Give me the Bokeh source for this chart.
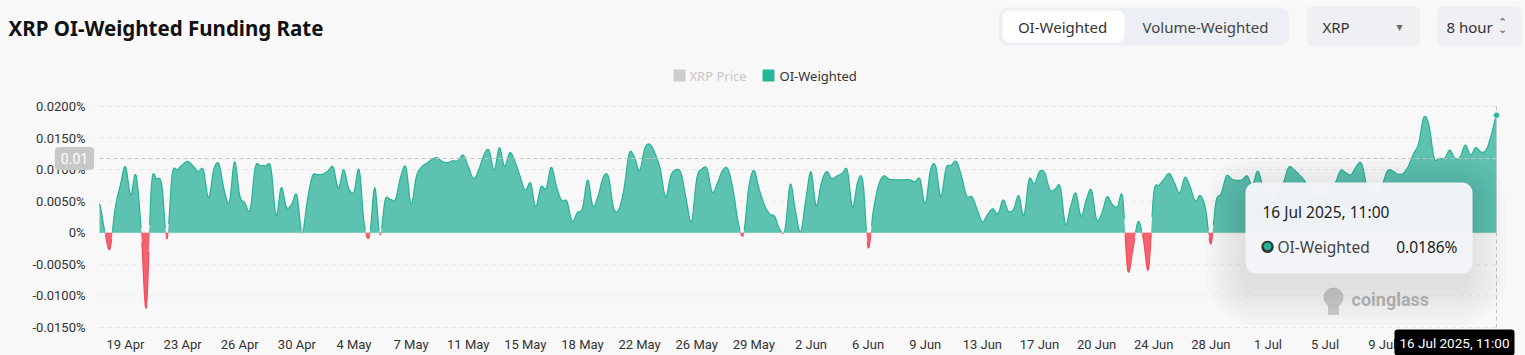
import numpy as np
from bokeh.plotting import figure
from bokeh.models import (Range1d, FixedTicker, CustomJSTickFormatter, Label,
                          BoxAnnotation)
from bokeh.embed import file_html
from bokeh.resources import INLINE

# ---------------- data (OI-weighted funding rate, %, 8h intervals) ----------------
FUNDING = [
    0.0046, 0.0003, -0.0026, 0.0038, 0.0075, 0.0105, 0.0059, 0.0092, 0.0008, -0.0120,
    0.0076, 0.0085, 0.0076, -0.0010, 0.0093, 0.0100, 0.0108, 0.0113, 0.0106, 0.0097,
    0.0100, 0.0055, 0.0100, 0.0109, 0.0068, 0.0048, 0.0113, 0.0059, 0.0047, 0.0036,
    0.0104, 0.0106, 0.0106, 0.0103, 0.0027, 0.0072, 0.0040, 0.0045, 0.0060, -0.0001,
    0.0050, 0.0090, 0.0092, 0.0093, 0.0098, 0.0104, 0.0070, 0.0100, 0.0070, 0.0065,
    0.0100, 0.0012, -0.0005, 0.0072, -0.0004, 0.0052, 0.0053, 0.0053, 0.0089, 0.0104,
    0.0045, 0.0089, 0.0104, 0.0110, 0.0116, 0.0119, 0.0113, 0.0111, 0.0114, 0.0114,
    0.0123, 0.0105, 0.0086, 0.0099, 0.0123, 0.0131, 0.0099, 0.0135, 0.0105, 0.0127,
    0.0113, 0.0089, 0.0067, 0.0079, 0.0041, 0.0073, 0.0070, 0.0104, 0.0073, 0.0051,
    0.0050, 0.0018, 0.0032, 0.0039, 0.0084, 0.0042, 0.0058, 0.0088, 0.0089, 0.0039,
    0.0037, 0.0070, 0.0126, 0.0120, 0.0098, 0.0134, 0.0140, 0.0125, 0.0100, 0.0056,
    0.0090, 0.0100, 0.0094, 0.0052, 0.0017, 0.0086, 0.0101, 0.0101, 0.0064, 0.0079,
    0.0099, 0.0101, 0.0068, 0.0016, -0.0003, 0.0071, 0.0099, 0.0070, 0.0045, 0.0030,
    0.0026, 0.0005, 0.0005, 0.0077, 0.0035, 0.0001, 0.0052, 0.0097, 0.0042, 0.0079,
    0.0097, 0.0086, 0.0090, 0.0094, 0.0099, 0.0040, 0.0081, 0.0081, -0.0024, 0.0035,
    0.0075, 0.0090, 0.0085, 0.0084, 0.0084, 0.0084, 0.0084, 0.0081, 0.0085, 0.0045,
    0.0099, 0.0106, 0.0057, 0.0102, 0.0107, 0.0113, 0.0089, 0.0058, 0.0057, 0.0037,
    0.0017, 0.0029, 0.0038, 0.0030, 0.0052, 0.0034, 0.0037, 0.0059, 0.0027, 0.0085,
    0.0077, 0.0097, 0.0095, 0.0068, 0.0069, 0.0073, 0.0013, 0.0042, 0.0063, 0.0026,
    0.0052, 0.0068, 0.0021, 0.0031, 0.0057, 0.0045, 0.0041, 0.0057, -0.0060, -0.0025,
    0.0018, -0.0010, -0.0058, 0.0063, 0.0075, 0.0085, 0.0094, 0.0079, 0.0063, 0.0088,
    0.0073, 0.0050, 0.0059, 0.0037, -0.0018, 0.0050, 0.0062, 0.0090, 0.0085, 0.0083,
    0.0084, 0.0090, 0.0075, 0.0098, 0.0075, 0.0060, 0.0055, 0.0065, 0.0080, 0.0104,
    0.0100, 0.0092, 0.0083, 0.0070, 0.0060, 0.0055, 0.0060, 0.0070, 0.0080, 0.0099,
    0.0095, 0.0092, 0.0105, 0.0110, 0.0075, 0.0060, 0.0055, 0.0075, 0.0098, 0.0098,
    0.0093, 0.0094, 0.0105, 0.0125, 0.0141, 0.0183, 0.0170, 0.0118, 0.0118, 0.0118,
    0.0131, 0.0118, 0.0120, 0.0139, 0.0123, 0.0135, 0.0128, 0.0131, 0.0155, 0.0186,
]
X_LABELS = ["19 Apr", "23 Apr", "26 Apr", "30 Apr", "4 May", "7 May", "11 May",
            "15 May", "18 May", "22 May", "26 May", "29 May", "2 Jun", "6 Jun",
            "9 Jun", "13 Jun", "17 Jun", "20 Jun", "24 Jun", "28 Jun", "1 Jul",
            "5 Jul", "9 Jul"]
FIRST_LABEL_INDEX = 5
LABEL_STEP = 11
Y_TICKS = [-0.015, -0.01, -0.005, 0, 0.005, 0.01, 0.015, 0.02]
LAST_TIME = "16 Jul 2025, 11:00"
LAST_VALUE = "0.0186%"
CROSS_Y_LABEL = "0.01"

N = len(FUNDING)
xs = np.arange(N, dtype=float)
ys = np.array(FUNDING, dtype=float)

# ---------------- geometry (plot region inside the full-canvas frame) ----------------
W, H = 1525, 355
FL, FR, FT, FB = 99, 1496, 106, 327
YMIN, YMAX = -0.015, 0.02

def dx(px):
    return (px - FL) / (FR - FL) * (N - 1)

def dy(py):
    return YMAX - (py - FT) / (FB - FT) * (YMAX - YMIN)

BG = "#f8f8f8"
GREEN_FILL = "#5ec2b0"
GREEN_LINE = "#27b396"
RED_FILL = "#f6616f"
RED_LINE = "#f04a5b"
UI_FONT = "Noto Sans"

p = figure(width=W, height=H, output_backend="svg", toolbar_location=None,
           x_range=Range1d(dx(0), dx(W)), y_range=Range1d(dy(H), dy(0)),
           min_border_left=0, min_border_right=0, min_border_top=0, min_border_bottom=0)
p.background_fill_color = BG
p.border_fill_color = BG
p.outline_line_color = None
p.xgrid.visible = False
p.ygrid.visible = False

# axes pinned to the plot-region edges
p.xaxis.ticker = FixedTicker(ticks=[FIRST_LABEL_INDEX + LABEL_STEP * k for k in range(len(X_LABELS))])
p.xaxis.major_label_overrides = {FIRST_LABEL_INDEX + LABEL_STEP * k: lab for k, lab in enumerate(X_LABELS)}
p.yaxis.ticker = FixedTicker(ticks=Y_TICKS)
p.yaxis.formatter = CustomJSTickFormatter(code="return (Math.abs(tick) < 1e-12) ? '0%' : tick.toFixed(4) + '%';")
for ax in (p.xaxis[0], p.yaxis[0]):
    ax.axis_line_color = None
    ax.major_tick_line_color = None
    ax.minor_tick_line_color = None
    ax.major_label_text_font = "Roboto"
    ax.major_label_text_font_size = "13px"
    ax.major_label_text_color = "#333333"
p.yaxis.fixed_location = 0
p.xaxis.fixed_location = YMIN
p.yaxis.major_label_standoff = 8
p.xaxis.major_label_standoff = 3

# horizontal dashed grid lines over the plot region
p.segment(x0=[0] * len(Y_TICKS), x1=[N - 1 + dx(FL + 3)] * len(Y_TICKS), y0=Y_TICKS, y1=Y_TICKS,
          line_color="#e4e4e4", line_dash="4 4", line_width=1)

# ---------------- smoothed curve (rendering only) ----------------
def smooth(xv, yv, k=6):
    P = np.concatenate([[yv[0]], yv, [yv[-1]]])
    t = np.linspace(0, 1, k, endpoint=False)
    ox, oy = [], []
    for i in range(len(yv) - 1):
        p0, p1, p2, p3 = P[i], P[i + 1], P[i + 2], P[i + 3]
        seg = 0.5 * (2 * p1 + (-p0 + p2) * t + (2 * p0 - 5 * p1 + 4 * p2 - p3) * t ** 2
                     + (-p0 + 3 * p1 - 3 * p2 + p3) * t ** 3)
        ox.extend(xv[i] + t * (xv[i + 1] - xv[i]))
        oy.extend(seg)
    ox.append(xv[-1]); oy.append(yv[-1])
    return np.array(ox), np.array(oy)

sx, sy = smooth(xs, ys)
pos = np.maximum(sy, 0)
neg = np.minimum(sy, 0)
p.segment(x0=[0], x1=[N - 1], y0=[0], y1=[0], line_color="#e6e6e6", line_width=1)
p.varea(x=sx, y1=0, y2=pos, fill_color=GREEN_FILL, fill_alpha=1)
p.varea(x=sx, y1=0, y2=neg, fill_color=RED_FILL, fill_alpha=1)
p.line(sx, np.where(sy >= 0, sy, np.nan), line_color=GREEN_LINE, line_width=1.2)
p.line(sx, np.where(sy <= 0, sy, np.nan), line_color=RED_LINE, line_width=1.2)

# crosshair
p.segment(x0=[0], x1=[N - 1], y0=[dy(158)], y1=[dy(158)], line_color="#c4c4c4",
          line_dash="4 3", line_width=1)
p.segment(x0=[N - 1], x1=[N - 1], y0=[YMAX], y1=[dy(331)], line_color="#c4c4c4",
          line_dash="4 3", line_width=1)
p.scatter([N - 1], [ys[-1]], size=6, fill_color=GREEN_LINE, line_color="#bfe9df", line_width=1)

# watermark logo
p.scatter([dx(1333)], [dy(297)], size=20, marker="circle", fill_color="#c9c9c9",
          line_color=None, fill_alpha=0.9)
p.scatter([dx(1333)], [dy(309)], size=11, marker="square", fill_color="#c9c9c9",
          line_color=None, fill_alpha=0.9)

def box(x0, y0, x1, y1, color, r=0, alpha=1.0, line=None):
    b = BoxAnnotation(left=dx(x0), right=dx(x1), top=dy(y0), bottom=dy(y1),
                      fill_color=color, fill_alpha=alpha, line_color=line,
                      border_radius=int(round(r)))
    p.add_layout(b)
    return b

def lab(text, px, py, size=14, color="#333333", align="left", bold=False,
        font="Roboto", **kw):
    l = Label(x=dx(px), y=dy(py), text=text, text_font=font,
              text_font_size=f"{size}px", text_color=color, text_align=align,
              text_baseline="middle", text_font_style="bold" if bold else "normal", **kw)
    p.add_layout(l)
    return l

lab("coinglass", 1351, 299, size=18, color="#bcbcbc", bold=True)

# tooltip shadow + box
for k in range(1, 9):
    e = 5 * k
    box(1245 - e, 182 - e + 14, 1472 + e - 6, 273 + e + 12, "#000000", r=8 + e, alpha=0.011)
box(1245, 182, 1472, 273, "#f2f4f7", r=10, alpha=0.98)
lab(LAST_TIME, 1262, 211, size=15.5, color="#222222", font=UI_FONT)
lab("●", 1267, 245, size=16, color="#333333", align="center", font="DejaVu Sans")
lab("●", 1267, 245, size=10, color=GREEN_LINE, align="center", font="DejaVu Sans")
lab("OI-Weighted", 1277, 246, size=15.5, color="#444444", font=UI_FONT)
lab(LAST_VALUE, 1457, 246, size=15.5, color="#222222", align="right", font=UI_FONT)

# axis pointer labels
lab(CROSS_Y_LABEL, 74, 158, size=14, color="#ffffff", align="center",
    background_fill_color="#c8c8c8", padding=6, border_radius=4)
lab(LAST_TIME, 1454, 342, size=13.5, color="#ffffff", align="center",
    background_fill_color="#000000", padding=5, border_radius=3)

# title
lab("XRP OI-Weighted Funding Rate", 8, 27, size=20.5, color="#111111", bold=True,
    font="Noto Sans")

# legend
box(673, 69, 685, 81, "#cccccc", r=1)
lab("XRP Price", 689, 75, size=13, color="#c6c6c6", font=UI_FONT)
box(762, 69, 774, 81, "#26b596", r=1)
lab("OI-Weighted", 779, 75, size=13, color="#333333", font=UI_FONT)

# buttons
box(998, 7, 1289, 45, "#eceff3", r=10)
box(1002, 10, 1124, 42, "#ffffff", r=7)
lab("OI-Weighted", 1062, 26, size=15, color="#333333", align="center", font=UI_FONT)
lab("Volume-Weighted", 1205, 26, size=15, color="#444444", align="center", font=UI_FONT)
box(1307, 6, 1419, 46, "#eef0f3", r=6, line="#e6e8ec")
lab("XRP", 1322, 26, size=15, color="#333333", font=UI_FONT)
lab("▾", 1399, 26, size=12, color="#666666", align="center", font="DejaVu Sans")
box(1437, 6, 1521, 46, "#eef0f3", r=6, line="#e6e8ec")
lab("8 hour", 1446, 26, size=15, color="#333333", font=UI_FONT)
lab("⌃", 1502, 22, size=11, color="#555555", align="center", font="DejaVu Sans")
lab("⌄", 1502, 29, size=11, color="#555555", align="center", font="DejaVu Sans")

open("out.html", "w").write(file_html(p, INLINE))
